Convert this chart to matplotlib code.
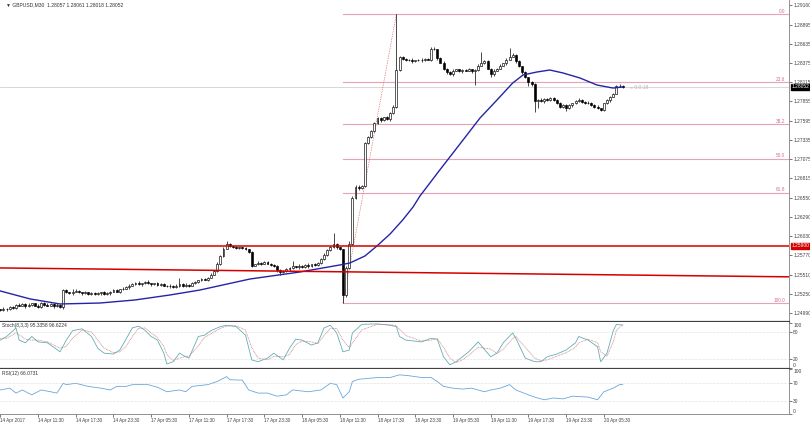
import matplotlib.pyplot as plt
import numpy as np

# ---- data (GBPUSD M30, 14-20 Apr 2017) ----
first_open = 1.2504
closes = [
    1.2503, 1.2505, 1.2504, 1.2507, 1.2506, 1.2510, 1.2509, 1.2511, 1.2508, 1.2510,
    1.2512, 1.2509, 1.2507, 1.2513, 1.2510, 1.2509, 1.2511, 1.2508, 1.2510, 1.2507,
    1.2530, 1.2527, 1.2526, 1.2528, 1.2529, 1.2527, 1.2526, 1.2527, 1.2525, 1.2526,
    1.2525, 1.2526, 1.2527, 1.2525, 1.2526, 1.2528, 1.2530, 1.2528, 1.2531, 1.2532,
    1.2534, 1.2536, 1.2538, 1.2540, 1.2538, 1.2539, 1.2541, 1.2539, 1.2538, 1.2539,
    1.2537, 1.2538, 1.2536, 1.2535, 1.2536, 1.2534, 1.2536, 1.2538, 1.2535, 1.2537,
    1.2536, 1.2539, 1.2541, 1.2543, 1.2545, 1.2544, 1.2547, 1.2551, 1.2556, 1.2566,
    1.2576, 1.2586, 1.2593, 1.2590, 1.2588, 1.2587, 1.2588, 1.2587, 1.2585, 1.2581,
    1.2563, 1.2565, 1.2567, 1.2566, 1.2568, 1.2566, 1.2564, 1.2562, 1.2557, 1.2554,
    1.2556, 1.2558, 1.2560, 1.2562, 1.2561, 1.2563, 1.2561, 1.2564, 1.2562, 1.2565,
    1.2564, 1.2567, 1.2572, 1.2578, 1.2584, 1.2588, 1.2592, 1.2588, 1.2585, 1.2523,
    1.2560, 1.2593, 1.2655, 1.2670, 1.2668, 1.2671, 1.2729, 1.2737, 1.2746, 1.2756,
    1.2763, 1.2760, 1.2764, 1.2761, 1.2770, 1.2778, 1.2828, 1.2845, 1.2843, 1.2841,
    1.2842, 1.2840, 1.2841, 1.2842, 1.2841, 1.2843, 1.2842, 1.2857, 1.2856, 1.2844,
    1.2838, 1.2830, 1.2825, 1.2822, 1.2827, 1.2829, 1.2826, 1.2828, 1.2827, 1.2829,
    1.2826, 1.2828, 1.2834, 1.2838, 1.2840, 1.2830, 1.2822, 1.2827, 1.2830, 1.2834,
    1.2837, 1.2842, 1.2846, 1.2848, 1.2840, 1.2833, 1.2825, 1.2818, 1.2812, 1.2809,
    1.2786, 1.2788, 1.2786, 1.2789, 1.2787, 1.2790, 1.2788, 1.2783, 1.2778, 1.2781,
    1.2776, 1.2780, 1.2783, 1.2786, 1.2788, 1.2785, 1.2783, 1.2784, 1.2781, 1.2778,
    1.2776, 1.2774, 1.2783, 1.2787, 1.2792, 1.2796, 1.2806, 1.2807, 1.28052,
]
# wick lengths beyond the body, in pips
upper_wick = [
    1, 2, 1, 1, 2, 1, 2, 1, 1, 2,  1, 1, 2, 1, 1, 2, 1, 1, 2, 1,
    1, 2, 1, 3, 2, 1, 1, 2, 1, 1,  2, 1, 1, 2, 1, 1, 2, 1, 1, 2,
    1, 2, 1, 1, 2, 1, 1, 2, 1, 1,  2, 1, 1, 1, 2, 1, 2, 8, 1, 2,
    1, 2, 1, 1, 2, 1, 1, 2, 1, 2,  1, 2, 4, 1, 1, 2, 1, 1, 2, 1,
    2, 1, 2, 1, 1, 2, 1, 1, 2, 1,  1, 2, 1, 8, 1, 2, 1, 1, 3, 1,
    2, 1, 1, 2, 1, 2, 15, 2, 1, 1,  2, 3, 2, 2, 2, 1, 2, 2, 1, 2,
    2, 2, 1, 2, 1, 2, 76, 2, 2, 1,  1, 2, 1, 1, 2, 1, 1, 2, 2, 1,
    1, 2, 1, 1, 2, 1, 1, 2, 1, 2,  1, 1, 2, 15, 2, 1, 1, 2, 1, 2,
    1, 2, 12, 3, 2, 1, 1, 2, 1, 1,  2, 1, 2, 1, 1, 2, 1, 1, 2, 1,
    1, 2, 1, 1, 2, 1, 1, 2, 1, 1,  2, 1, 1, 2, 1, 1, 2, 2, 1,
]
lower_wick = [
    1, 1, 2, 1, 1, 2, 1, 1, 2, 1,  2, 1, 1, 1, 2, 1, 1, 2, 1, 1,
    2, 1, 1, 2, 1, 1, 2, 1, 1, 2,  1, 1, 2, 1, 1, 2, 1, 1, 2, 1,
    1, 2, 1, 1, 1, 2, 1, 1, 2, 1,  1, 2, 1, 1, 2, 1, 1, 2, 1, 1,
    2, 1, 1, 2, 1, 1, 2, 1, 1, 1,  2, 1, 1, 2, 1, 1, 1, 2, 1, 1,
    2, 1, 1, 2, 1, 1, 2, 1, 2, 3,  1, 1, 2, 1, 1, 2, 1, 1, 2, 1,
    1, 2, 1, 1, 2, 1, 1, 2, 1, 11,  2, 2, 2, 1, 2, 1, 2, 1, 1, 2,
    1, 2, 1, 1, 2, 1, 2, 1, 2, 1,  1, 2, 1, 1, 2, 1, 1, 2, 1, 2,
    1, 2, 2, 1, 2, 1, 1, 2, 1, 1,  2, 18, 1, 1, 2, 1, 4, 2, 1, 1,
    1, 2, 1, 1, 2, 1, 2, 1, 6, 2,  15, 10, 1, 2, 1, 1, 2, 1, 2, 1,
    3, 1, 2, 1, 1, 2, 1, 1, 2, 1,  1, 2, 1, 1, 2, 1, 1, 1, 1,
]

# moving average (read at sample bars)
ma_idx = [0, 9.5, 19, 31.7, 42.8, 54, 63.5, 79.4, 95.3, 108, 111.2, 116, 119.8, 124,
          128, 131.3, 133.5, 139.8, 147.2, 152.6, 158, 163, 166.3, 170.7, 174.8,
          179, 184.4, 189.8, 194.9, 198]
ma_vals = [1.25288, 1.25180, 1.25112, 1.25125, 1.25166, 1.25234, 1.25301, 1.25450,
           1.25545, 1.25640, 1.25667, 1.25762, 1.25897, 1.26060, 1.26249, 1.26425,
           1.26574, 1.26926, 1.27332, 1.27630, 1.27874, 1.28104, 1.28213, 1.28253,
           1.28280, 1.28240, 1.28172, 1.28077, 1.28036, 1.28050]

# stochastic (8,3,3)
stoch_idx = [0, 2, 5, 6, 8, 10, 12, 15, 19, 21, 23, 26, 29, 31, 33, 36, 38, 40, 42, 44,
             46, 48, 50, 52, 53, 55, 57, 59, 60, 63, 65, 67, 70, 72, 75, 78, 80, 82, 85,
             87, 90, 92, 94, 96, 99, 101, 103, 105, 107, 109, 111, 112, 115, 120, 124,
             126, 127, 129, 134, 137, 139, 141, 143, 145, 147, 149, 152, 156, 158, 160,
             163, 164, 167, 170, 172, 174, 177, 180, 183, 184, 187, 190, 191, 193, 195,
             196, 198]
stoch_k = [62, 70, 89, 62, 56, 70, 58, 56, 36, 62, 83, 87, 70, 44, 33, 31, 40, 64, 89, 93,
           84, 70, 62, 33, 9, 14, 33, 25, 22, 70, 73, 83, 92, 95, 92, 73, 18, 14, 22,
           33, 18, 44, 64, 62, 51, 56, 89, 95, 78, 36, 40, 78, 97, 98, 95,
           92, 70, 62, 58, 66, 64, 25, 7, 14, 25, 36, 58, 25, 33, 56,
           78, 66, 22, 14, 14, 25, 31, 40, 56, 70, 62, 47, 14, 33, 83,
           97, 95.34]
stoch_d = [66, 66, 78, 74, 64, 62, 62, 58, 44, 48, 66, 85, 80, 62, 44, 34, 36, 48, 70, 88,
           89, 78, 68, 48, 30, 17, 22, 26, 26, 50, 68, 76, 88, 93, 94, 84, 45, 22, 18,
           26, 25, 30, 52, 60, 58, 54, 72, 88, 88, 62, 45, 55, 85, 97, 96,
           94, 86, 72, 60, 62, 65, 46, 22, 12, 18, 28, 46, 42, 32, 42,
           66, 70, 46, 22, 16, 18, 26, 34, 46, 56, 64, 56, 36, 26, 58,
           84, 96.62]

# RSI (12)
rsi_idx = [0, 3, 5, 7, 10, 13, 16, 18, 20, 21, 24, 28, 32, 35, 37, 40, 42, 47, 50, 53,
           57, 59, 61, 66, 69, 72, 73, 77, 79, 82, 85, 88, 91, 93, 98, 102, 105, 107,
           109, 111, 112, 114, 120, 124, 127, 130, 134, 137, 139, 141, 144, 147, 150,
           154, 156, 159, 162, 164, 168, 170, 173, 176, 179, 182, 187, 190, 192, 195,
           197, 198]
rsi_vals = [54, 58, 47, 54, 43, 54, 50, 47, 69, 66, 69, 62, 58, 54, 62, 62, 66, 66, 60, 50,
            54, 50, 62, 66, 73, 84, 77, 76, 54, 47, 47, 40, 43, 54, 50, 54, 69, 66,
            36, 50, 73, 78, 82, 82, 88, 86, 82, 82, 73, 62, 58, 56, 58,
            50, 54, 58, 66, 54, 43, 38, 32, 36, 34, 40, 38, 32, 50, 58,
            66, 66.07]

# levels / objects
fib_anchor = (109, 126)
fib_low, fib_high = 1.25125, 1.29038
fib_levels = [0.0, 23.6, 38.2, 50.0, 61.8, 100.0]
support_level = 1.25900
trend_idx = [0, 250]
trend_vals = [1.2560, 1.2548]
last_price = 1.28052

price_ticks = [1.29160, 1.28895, 1.28635, 1.28375, 1.28115, 1.27855, 1.27595, 1.27335,
               1.27075, 1.26815, 1.26550, 1.26290, 1.26030, 1.25770, 1.25510, 1.25250,
               1.24990]
time_labels = ["14 Apr 2017", "14 Apr 11:30", "14 Apr 17:30", "14 Apr 23:30",
               "17 Apr 05:30", "17 Apr 11:30", "17 Apr 17:30", "17 Apr 23:30",
               "18 Apr 05:30", "18 Apr 11:30", "18 Apr 17:30", "18 Apr 23:30",
               "19 Apr 05:30", "19 Apr 11:30", "19 Apr 17:30", "19 Apr 23:30",
               "20 Apr 05:30"]
time_label_idx = list(range(0, 193, 12))

PIP = 0.0001
FONT = ['Liberation Sans', 'DejaVu Sans']
plt.rcParams['font.family'] = FONT

W, H = 810, 423
fig = plt.figure(figsize=(W / 100, H / 100), dpi=100)
fig.patch.set_facecolor('white')

right = 789 / W
ax = fig.add_axes([0, (H - 322) / H, right, 322 / H])
ax_st = fig.add_axes([0, (H - 369) / H, right, 47 / H], sharex=ax)
ax_rsi = fig.add_axes([0, (H - 414) / H, right, 45 / H], sharex=ax)

XMIN, XMAX = -0.1, 250.9
ax.set_xlim(XMIN, XMAX)
ax.set_ylim(1.24868, 1.29228)

closes = np.array(closes)
idx = np.arange(len(closes))
opens = np.r_[first_open, closes[:-1]]
highs = np.maximum(opens, closes) + np.array(upper_wick) * PIP
lows = np.minimum(opens, closes) - np.array(lower_wick) * PIP
up = closes >= opens

# fibonacci
fib_color = '#e6a3b6'
rng = fib_high - fib_low
for lv in fib_levels:
    p = fib_high - rng * lv / 100
    ax.plot([fib_anchor[0], XMAX], [p, p], color=fib_color, lw=0.8, zorder=2)
    ax.text(XMAX - 1.3, p + 0.00003, f"{lv:.1f}", color='#d0708c', fontsize=3.4,
            ha='right', va='bottom', zorder=6)
ax.plot(fib_anchor, [fib_low, fib_high], color='#d04040', lw=0.5, ls=(0, (1, 1.5)), zorder=2)

# current price line
ax.axhline(last_price, color='#c8c8c8', lw=0.5, zorder=1)

# candles
ax.vlines(idx, lows, highs, color='black', lw=0.5, zorder=3)
ax.bar(idx[up], closes[up] - opens[up], bottom=opens[up], width=0.62,
       color='white', edgecolor='black', lw=0.45, zorder=4)
ax.bar(idx[~up], opens[~up] - closes[~up], bottom=closes[~up], width=0.62,
       color='black', edgecolor='black', lw=0.45, zorder=4)

# moving average
ax.plot(ma_idx, ma_vals, color='#2424a8', lw=1.0, zorder=5)

# support / trend lines
ax.axhline(support_level, color='#d40000', lw=1.1, zorder=5)
ax.axline((trend_idx[0], trend_vals[0]), (trend_idx[1], trend_vals[1]),
          color='#d40000', lw=1.1, zorder=5)

ax.text(200.2, last_price - 0.00012, "\u00ab 0:0:18", color='#b4b4b4', fontsize=3.6,
        ha='left', va='center', zorder=6)
ax.text(0.008, 0.992, "\u25bc GBPUSD,M30  1.28057 1.28061 1.28018 1.28052",
        transform=ax.transAxes, fontsize=3.6, color='#333333', ha='left', va='top')

# right price axis
for a in (ax, ax_st, ax_rsi):
    a.yaxis.tick_right()
    a.tick_params(axis='y', direction='out', length=2, width=0.5, pad=1,
                  labelsize=3.5, colors='#404040')
    a.tick_params(axis='x', bottom=False, labelbottom=False)
    for s in ('left', 'top'):
        a.spines[s].set_visible(False)
    a.spines['right'].set_color('#808080')
    a.spines['right'].set_linewidth(0.6)
    a.set_facecolor('white')

ax.set_yticks(price_ticks)
ax.set_yticklabels([f"{t:.5f}" for t in price_ticks])
ax.spines['bottom'].set_color('#404040')
ax.spines['bottom'].set_linewidth(1.6)

# price tags on axis
ax.annotate(f"{last_price:.5f}", xy=(1.0, last_price), xycoords=('axes fraction', 'data'),
            xytext=(2, 0), textcoords='offset points', fontsize=3.5, color='white',
            va='center', ha='left', annotation_clip=False,
            bbox=dict(boxstyle='square,pad=0.15', fc='black', ec='black'))
ax.annotate(f"{support_level:.5f}", xy=(1.0, support_level), xycoords=('axes fraction', 'data'),
            xytext=(2, 0), textcoords='offset points', fontsize=3.5, color='white',
            va='center', ha='left', annotation_clip=False,
            bbox=dict(boxstyle='square,pad=0.15', fc='#d40000', ec='#d40000'))

# stochastic panel
ax_st.set_ylim(-2.2, 102.2)
ax_st.plot(stoch_idx, stoch_k, color='#63aeb4', lw=0.6)
ax_st.plot(stoch_idx, stoch_d, color='#c86c6c', lw=0.55, ls=(0, (1, 1)))
for lv in (20, 80):
    ax_st.axhline(lv, color='#c0c0c0', lw=0.4, ls=(0, (1, 1.5)))
ax_st.set_yticks([0, 20, 80, 100])
ax_st.set_yticklabels(['0', '20', '80', '100'])
st_labels = ax_st.get_yticklabels()
st_labels[0].set_va('bottom')
st_labels[3].set_va('top')
ax_st.spines['bottom'].set_color('#404040')
ax_st.spines['bottom'].set_linewidth(1.6)
ax_st.text(0.003, 0.97, "Stoch(8,3,3) 95.3358 96.6224", transform=ax_st.transAxes,
           fontsize=3.5, color='#333333', ha='left', va='top')

# RSI panel
ax_rsi.set_ylim(1.1, 101.1)
ax_rsi.plot(rsi_idx, rsi_vals, color='#6aa6dc', lw=0.6)
for lv in (30, 70):
    ax_rsi.axhline(lv, color='#c0c0c0', lw=0.4, ls=(0, (1, 1.5)))
ax_rsi.set_yticks([0, 30, 70, 100])
ax_rsi.set_yticklabels(['0', '30', '70', '100'])
rsi_labels = ax_rsi.get_yticklabels()
rsi_labels[0].set_va('bottom')
rsi_labels[3].set_va('top')
ax_rsi.spines['bottom'].set_color('#909090')
ax_rsi.spines['bottom'].set_linewidth(0.7)
ax_rsi.text(0.003, 0.96, "RSI(12) 66.0731", transform=ax_rsi.transAxes,
            fontsize=3.5, color='#333333', ha='left', va='top')

ax_rsi.tick_params(axis='x', bottom=True, labelbottom=True, direction='out', length=2,
                   width=0.5, pad=1, labelsize=3.3, colors='#404040')
ax_rsi.set_xticks(time_label_idx)
ax_rsi.set_xticklabels(time_labels, ha='left')
ax_rsi.set_xlim(XMIN, XMAX)

fig.savefig("out.png", dpi=100, facecolor='white')
